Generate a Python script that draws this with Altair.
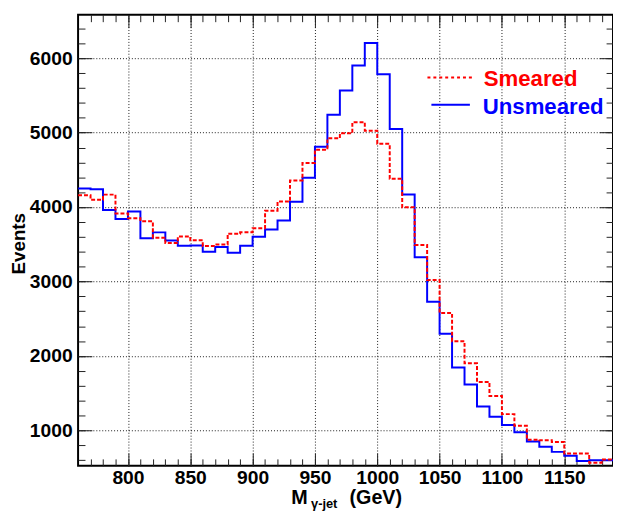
import altair as alt
import pandas as pd

# ---- data ----
bin_edges = list(range(760, 1190, 10))  # left edges of 10 GeV bins
unsmeared = [4250, 4240, 3960, 3840, 3940, 3580, 3660, 3550, 3480, 3485,
             3400, 3465, 3385, 3480, 3600, 3700, 3820, 4070, 4395, 4810,
             5240, 5565, 5900, 6205, 5785, 5050, 4170, 3325, 2728, 2300,
             1846, 1616, 1320, 1183, 1073, 976, 850, 780, 712, 660,
             589, 600, 600]
smeared = [4160, 4097, 4167, 3915, 3849, 3809, 3589, 3517, 3606, 3553,
           3478, 3496, 3642, 3663, 3716, 3951, 4074, 4358, 4592, 4769,
           4923, 4990, 5140, 5025, 4849, 4379, 3998, 3492, 3020, 2578,
           2199, 1903, 1651, 1461, 1219, 1064, 876, 867, 845, 690,
           690, 566, 610]
x_major = [800, 850, 900, 950, 1000, 1050, 1100, 1150]
x_minor = list(range(770, 1190, 10))
y_major = [1000, 2000, 3000, 4000, 5000, 6000]
y_minor = list(range(600, 6600, 200))

X_DOMAIN = [760, 1189.1]
Y_DOMAIN = [525, 6583]
W, H = 542, 457
FONT = "Liberation Sans"


def step_df(values):
    return pd.DataFrame({"m": bin_edges + [1190], "n": values + [values[-1]]})


def X(axis):
    return alt.X("m:Q", scale=alt.Scale(domain=X_DOMAIN, nice=False, zero=False), axis=axis)


def Y(axis):
    return alt.Y("n:Q", scale=alt.Scale(domain=Y_DOMAIN, nice=False, zero=False), axis=axis)


def tick_axis(orient, values, size):
    off = -(H if orient in ("top", "bottom") else W)
    return alt.Axis(orient=orient, offset=off, values=values, labels=False, domain=False,
                    grid=False, ticks=True, tickSize=size, tickColor="#222",
                    tickWidth=1, title=None)


main_x = alt.Axis(orient="bottom", values=x_major, format="d", labelFont=FONT,
                  labelFontSize=19.5, labelFontWeight="bold", labelColor="black",
                  labelPadding=3, ticks=False, tickSize=0, domain=False, grid=True,
                  gridColor="black", gridDash=[1, 2], gridWidth=1, gridOpacity=0.9,
                  title=None, labelOverlap=False, labelFlush=False)
main_y = alt.Axis(orient="left", values=y_major, format="d", labelFont=FONT,
                  labelFontSize=19.5, labelFontWeight="bold", labelColor="black",
                  labelPadding=6, ticks=False, tickSize=0, domain=False, grid=True,
                  gridColor="black", gridDash=[1, 2], gridWidth=1, gridOpacity=0.9,
                  title="Events", titleFont=FONT, titleFontSize=19, titleFontWeight="bold",
                  titleColor="black", titleX=-54, titleY=231.5, titleAngle=270,
                  titleAlign="center", titleBaseline="alphabetic",
                  labelOverlap=False, labelFlush=False)

blue = alt.Chart(step_df(unsmeared)).mark_line(
    interpolate="step-after", color="#0000ff", strokeWidth=2, clip=True
).encode(x=X(main_x), y=Y(main_y))

red = alt.Chart(step_df(smeared)).mark_line(
    interpolate="step-after", color="#ff0000", strokeWidth=2, strokeDash=[4, 2], clip=True
).encode(x=X(None), y=Y(None))

tick_layers = []
for xo, yo in (("top", "right"), ("bottom", "left")):
    tick_layers.append(alt.Chart(step_df(smeared)).mark_point(opacity=0).encode(
        x=X(tick_axis(xo, x_major, 13)), y=Y(tick_axis(yo, y_major, 14))))
    tick_layers.append(alt.Chart(step_df(smeared)).mark_point(opacity=0).encode(
        x=X(tick_axis(xo, x_minor, 7)), y=Y(tick_axis(yo, y_minor, 7))))

one = pd.DataFrame({"k": [0]})


def txt(s, x, y, size, color="black"):
    return alt.Chart(one).mark_text(text=s, font=FONT, fontSize=size, fontWeight="bold",
                                    color=color, align="left", baseline="alphabetic").encode(
        x=alt.value(x), y=alt.value(y))


leg_red = alt.Chart(one).mark_rule(color="#ff0000", strokeWidth=2, strokeDash=[3, 3]).encode(
    x=alt.value(354), x2=alt.value(400), y=alt.value(63.5))
leg_blue = alt.Chart(one).mark_rule(color="#0000ff", strokeWidth=2).encode(
    x=alt.value(358), x2=alt.value(397), y=alt.value(91.2))

layers = [blue, red] + tick_layers + [
    leg_red, leg_blue,
    txt("Smeared", 411, 71.8, 22.5, "#ff0000"),
    txt("Unsmeared", 410, 100.2, 22.5, "#0000ff"),
    txt("M", 216, 496, 20),
    txt("γ-jet", 236, 499.5, 13),
    txt("(GeV)", 275, 496, 20),
]

chart = alt.layer(*layers).resolve_axis(x="independent", y="independent").properties(
    width=W, height=H,
    padding={"left": 71, "top": 3.5, "right": 0, "bottom": 45.5},
    autosize=alt.AutoSizeParams(type="none"),
    background="white",
).configure_view(stroke="black", strokeWidth=2)

chart.save("out.html", embed_options={"renderer": "svg", "actions": False})
